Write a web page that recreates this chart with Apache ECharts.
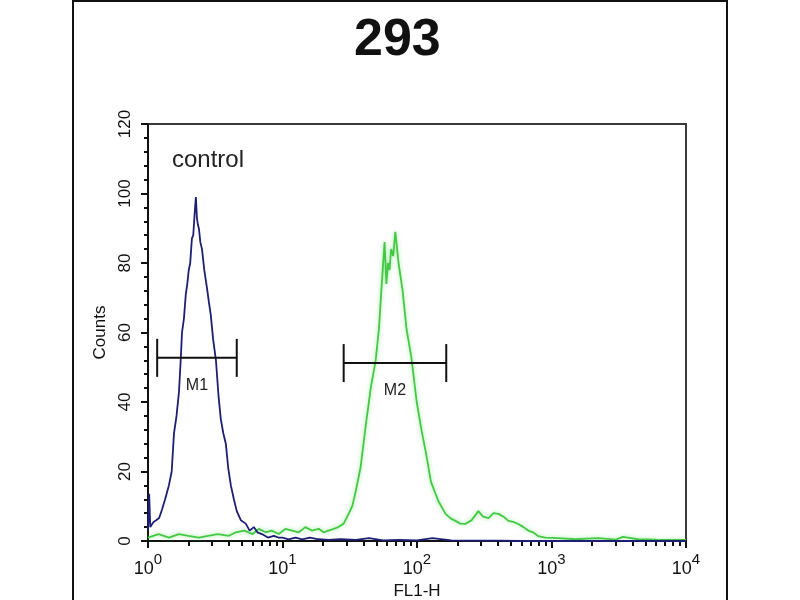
<!DOCTYPE html>
<html><head><meta charset="utf-8">
<script src="https://cdn.jsdelivr.net/npm/echarts@6/dist/echarts.min.js"></script>
<style>html,body{margin:0;padding:0;background:#fff}#c{width:800px;height:600px}</style>
</head><body><div id="c"></div>
<script>
const titleText = '293';
const sampleLabel = 'control';
const xAxisName = 'FL1-H';
const yAxisName = 'Counts';
const xTickExponents = [0, 1, 2, 3, 4];
const yTickValues = [0, 20, 40, 60, 80, 100, 120];

const blueFL = [1.0, 1.02, 1.04, 1.07, 1.1, 1.15, 1.21, 1.27, 1.34, 1.43, 1.5, 1.56, 1.63, 1.70, 1.75,
  1.79, 1.85, 1.91, 1.96, 2.01, 2.06, 2.12, 2.17, 2.22, 2.27, 2.31, 2.35, 2.39, 2.45, 2.52,
  2.62, 2.74, 2.83, 2.93, 3.05, 3.20, 3.34, 3.48, 3.63, 3.79, 3.95, 4.13, 4.35, 4.57, 4.9,
  5.33, 5.7, 6.12, 6.5, 7.02, 7.8, 8.61, 9.3, 10, 11.1, 12.5, 14, 16, 18.6, 22,
  27, 35, 44, 56, 72.9, 100, 130, 180, 250, 403, 600, 1000, 2223, 5000, 10000];
const blueCounts = [3, 13.6, 4, 4.5, 5.5, 6, 6.6, 9, 12, 16, 20, 31, 36, 43, 52,
  60, 64, 71, 74, 78, 80, 87, 88, 94, 99, 93, 91, 90, 86, 84,
  78, 73, 69, 65, 58, 52, 42, 35, 31, 28, 21, 16, 12, 8.6, 6,
  5, 3, 4, 2.5, 2, 1, 1.5, 1, 1, 0.5, 1, 0.5, 1, 0.5, 0.3,
  0.5, 0.3, 0.8, 0.2, 0.3, 0.2, 0.8, 0.2, 0.1, 0.1, 0, 0, 0, 0, 0];

const greenFL = [1.0, 1.2, 1.43, 1.7, 2.0, 2.39, 2.8, 3.3, 3.99, 4.5, 5.2, 6.0, 6.66, 7.5, 8.3,
  9.39, 10.5, 11.8, 13.2, 14.8, 16.5, 18.6, 20.2, 22.0, 24, 26, 28.5, 31.0, 33, 34.9,
  38.0, 41.5, 45.3, 49.3, 52.1, 54.7, 57.4, 59.2, 60.9, 62.5, 64.2, 66.5, 69.0, 72.9, 78.2,
  83.6, 90.7, 99.5, 107.9, 117, 127, 144, 163, 178, 193, 210, 228, 255, 286, 310,
  340, 370, 403, 440, 478, 520, 566, 620, 671, 730, 796, 900, 1120, 1500, 2223,
  3000, 3400, 4400, 6000, 10000];
const greenCounts = [1, 2, 1, 2, 1.5, 1, 1.5, 2, 1.5, 2.5, 3, 2, 3.5, 2.5, 3,
  2, 3.5, 3, 2.5, 4, 3, 3.5, 2.5, 3, 3.5, 4, 5, 7.8, 10, 14,
  21, 33, 44, 52, 61, 74, 86, 74, 80, 78, 84, 82, 89, 80, 72,
  61, 53, 40, 32, 25, 17, 11.5, 7.8, 6.5, 5.8, 5, 4.9, 6, 8.6, 7,
  6.6, 8, 7.8, 7, 5.8, 5.5, 4.9, 4, 3, 2.5, 1.4, 1, 0.8, 0.5, 0.8,
  0.4, 1.2, 0.5, 0.4, 0.3];

const markerNames = ['M1', 'M2'];
const markerStart = [1.17, 28.5];
const markerEnd = [4.57, 165];
const markerLevel = [52.7, 51.2];

const minorTickValues = [];
xTickExponents.slice(0, -1).forEach(e => {
  for (let m = 2; m <= 9; m++) minorTickValues.push(m * Math.pow(10, e));
});

const chart = echarts.init(document.getElementById('c'), null, {renderer: 'canvas'});
const FONT = 'Liberation Sans, Arial, sans-serif';

chart.setOption({
  animation: false,
  backgroundColor: '#fff',
  title: {
    text: titleText, left: 349, top: 10,
    textStyle: {fontFamily: FONT, fontSize: 52, fontWeight: 'bold', color: '#111'}
  },
  grid: {left: 148, right: 114, top: 124, bottom: 59, show: true, borderColor: '#3a3a3a', borderWidth: 2,
    containLabel: false, outerBoundsMode: 'none'},
  xAxis: [{
    type: 'log', logBase: 10, min: 1, max: 10000,
    name: xAxisName, nameLocation: 'middle', nameGap: 42,
    nameTextStyle: {fontFamily: FONT, fontSize: 17, color: '#111'},
    axisLine: {show: true, lineStyle: {color: '#111', width: 2}},
    axisTick: {show: true, inside: false, length: 7, lineStyle: {color: '#111', width: 2}},
    splitLine: {show: false},
    axisLabel: {
      margin: 11, color: '#111',
      customValues: xTickExponents.map(e => Math.pow(10, e)),
      formatter: v => '{b|10}{s|' + Math.round(Math.log10(v)) + '}',
      rich: {
        b: {fontFamily: FONT, fontSize: 18, color: '#111', verticalAlign: 'bottom', lineHeight: 26},
        s: {fontFamily: FONT, fontSize: 15, color: '#111', verticalAlign: 'top', lineHeight: 26}
      }
    }
  }, {
    type: 'log', logBase: 10, min: 1, max: 10000, position: 'bottom',
    axisLine: {show: false},
    axisLabel: {show: false},
    splitLine: {show: false},
    axisTick: {show: true, inside: false, length: 5, customValues: minorTickValues, lineStyle: {color: '#111', width: 2}}
  }],
  yAxis: {
    type: 'value', min: 0, max: 120, interval: 20,
    name: yAxisName, nameLocation: 'middle', nameGap: 33,
    nameTextStyle: {fontFamily: FONT, fontSize: 17, color: '#111'},
    axisLine: {show: true, lineStyle: {color: '#111', width: 2}},
    axisTick: {show: true, inside: false, length: 7, lineStyle: {color: '#111', width: 2}},
    minorTick: {show: true, splitNumber: 5, length: 4, lineStyle: {color: '#111', width: 2}},
    splitLine: {show: false},
    axisLabel: {
      rotate: 90, margin: 14, color: '#111', fontFamily: FONT, fontSize: 17,
      customValues: yTickValues
    }
  },
  graphic: [
    {type: 'rect', shape: {x: 73, y: 1, width: 654, height: 620}, style: {fill: 'none', stroke: '#111', lineWidth: 2}, silent: true, z: 100},
    {type: 'text', left: 172, top: 148, style: {text: sampleLabel, fontFamily: FONT, fontSize: 24, fill: '#222'}}
  ],
  series: [{
    type: 'line', name: 'sample', symbol: 'none', xAxisIndex: 0,
    data: greenFL.map((x, i) => [x, greenCounts[i]]),
    lineStyle: {color: '#44c944', width: 1.8, shadowBlur: 4, shadowColor: 'rgba(90,220,90,0.6)'},
    z: 3
  }, {
    type: 'line', name: 'control', symbol: 'none', xAxisIndex: 0,
    data: blueFL.map((x, i) => [x, blueCounts[i]]),
    lineStyle: {color: '#1e1e74', width: 1.8},
    z: 4
  }, {
    type: 'custom', name: 'markers', xAxisIndex: 0, yAxisIndex: 0, clip: false, z: 5,
    data: markerStart.map((s, i) => [s, markerEnd[i], markerLevel[i]]),
    encode: {x: [0, 1], y: 2},
    renderItem: function (params, api) {
      const i = params.dataIndex;
      const p1 = api.coord([api.value(0), api.value(2)]);
      const p2 = api.coord([api.value(1), api.value(2)]);
      const h = 19;
      const st = {stroke: '#111', lineWidth: 2};
      return {type: 'group', children: [
        {type: 'line', shape: {x1: p1[0], y1: p1[1], x2: p2[0], y2: p2[1]}, style: st},
        {type: 'line', shape: {x1: p1[0], y1: p1[1] - h, x2: p1[0], y2: p1[1] + h}, style: st},
        {type: 'line', shape: {x1: p2[0], y1: p2[1] - h, x2: p2[0], y2: p2[1] + h}, style: st},
        {type: 'text', x: (p1[0] + p2[0]) / 2, y: p1[1] + 20,
          style: {text: markerNames[i], fill: '#222', fontFamily: FONT, fontSize: 16, align: 'center', verticalAlign: 'top'}}
      ]};
    }
  }]
});
</script></body></html>
